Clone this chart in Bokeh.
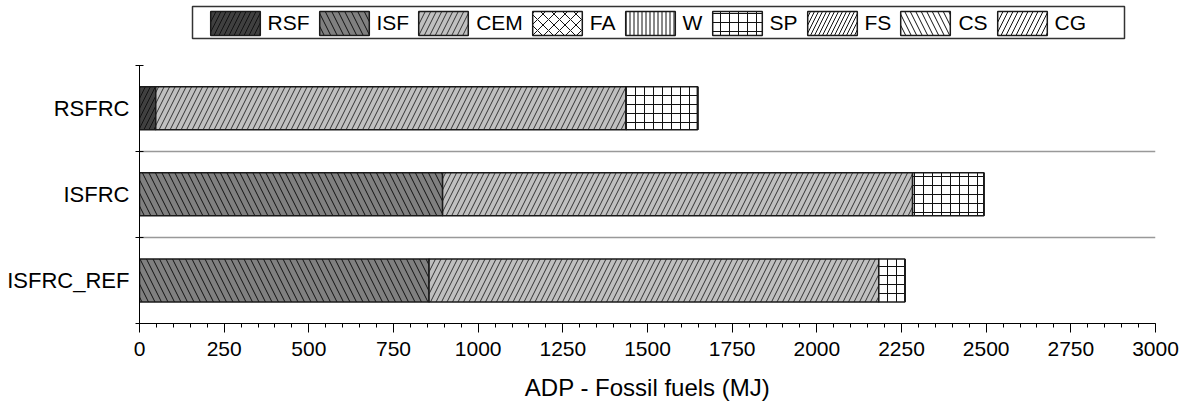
from bokeh.plotting import figure
from bokeh.models import (Range1d, FixedTicker, SingleIntervalTicker, Legend,
                          LegendItem, ColumnDataSource, BoxAnnotation)
from bokeh.embed import file_html
from bokeh.resources import INLINE

# ---- data ----
categories = ["RSFRC", "ISFRC", "ISFRC_REF"]
components = ["RSF", "ISF", "CEM", "FA", "W", "SP", "FS", "CS", "CG"]
RSF = [48, 0, 0]
ISF = [0, 895, 855]
CEM = [1389, 1388, 1328]
FA = [0, 0, 0]
W = [0, 0, 0]
SP = [211, 210, 77]
FS = [0, 0, 0]
CS = [0, 0, 0]
CG = [0, 0, 0]
x_tick_interval = 250
x_max = 3000
x_label = "ADP - Fossil fuels (MJ)"

# ---- styles ----
fills = ["#404040", "#808080", "#c0c0c0", "white", "white", "white", "white", "white", "white"]
hatches = ["/", "\\", "/", "x", "|", "+", "/", "\\", "/"]
hatch_scales = [10, 13, 11, 11, 4, 9, 8, 11, 10]
hatch_colors = ["#111111", "#111111", "#333333", "#111111", "#111111", "#111111", "#111111", "#111111", "#111111"]
FONT = "Liberation Sans"
LEGEND_ROOM = 0.75   # extra room above the bars (in category units) that holds the legend

n = len(categories)
ypos = [n - i - 0.5 for i in range(n)]

data = {"y": ypos}
series = [RSF, ISF, CEM, FA, W, SP, FS, CS, CG]
for name, vals in zip(components, series):
    data[name] = vals
source = ColumnDataSource(data)

p = figure(width=1193, height=403,
           x_range=Range1d(0, x_max), y_range=Range1d(0, n + LEGEND_ROOM),
           output_backend="svg", toolbar_location=None,
           min_border_left=139, min_border_right=38,
           min_border_top=0, min_border_bottom=78)
p.outline_line_color = None
p.background_fill_color = "white"
p.border_fill_color = "white"

renderers = p.hbar_stack(components, y="y", height=0.5, source=source,
                         fill_color=fills, line_color="#1a1a1a", line_width=1.5,
                         hatch_pattern=hatches, hatch_scale=hatch_scales,
                         hatch_color=hatch_colors, hatch_weight=1)

# x axis
xa = p.xaxis[0]
xa.ticker = SingleIntervalTicker(interval=x_tick_interval, num_minor_ticks=5)
xa.major_tick_out = 9
xa.major_tick_in = 0
xa.minor_tick_out = 4
xa.minor_tick_in = 0
xa.axis_line_color = "black"
xa.major_tick_line_color = "black"
xa.minor_tick_line_color = "black"
xa.major_label_text_font = FONT
xa.major_label_text_font_size = "21px"
xa.major_label_text_color = "black"
xa.major_label_standoff = 9
xa.axis_label = x_label
xa.axis_label_text_font = FONT
xa.axis_label_text_font_size = "24px"
xa.axis_label_text_font_style = "normal"
xa.axis_label_text_color = "black"
xa.axis_label_standoff = 15

# y axis
ya = p.yaxis[0]
ya.bounds = (0, n)
ya.ticker = FixedTicker(ticks=ypos, minor_ticks=list(range(n + 1)))
ya.major_label_overrides = {y: c for y, c in zip(ypos, categories)}
ya.major_tick_line_color = None
ya.major_tick_out = 0
ya.major_tick_in = 0
ya.minor_tick_out = 4
ya.minor_tick_in = 4
ya.minor_tick_line_color = "black"
ya.axis_line_color = "black"
ya.major_label_text_font = FONT
ya.major_label_text_font_size = "22px"
ya.major_label_text_color = "black"
ya.major_label_standoff = 6

# grid
p.xgrid.grid_line_color = None
p.ygrid.ticker = FixedTicker(ticks=list(range(1, n)))
p.ygrid.grid_line_color = "#999999"
p.ygrid.grid_line_width = 1.5

# legend frame (screen units relative to the plot frame, y upwards)
p.add_layout(BoxAnnotation(left=53, right=985, bottom=285, top=317,
                           left_units="screen", right_units="screen",
                           bottom_units="screen", top_units="screen",
                           fill_color="white", fill_alpha=1,
                           line_color="#333333", line_width=1.5, line_alpha=1))

legend = Legend(items=[LegendItem(label=c, renderers=[r]) for c, r in zip(components, renderers)],
                orientation="horizontal", location=(64.5, 285),
                glyph_width=62, glyph_height=30, label_standoff=2, spacing=3,
                padding=1, margin=0,
                label_text_font=FONT, label_text_font_size="21px",
                label_text_color="black", label_height=24,
                border_line_color=None, background_fill_alpha=0)
p.add_layout(legend, "center")

open("out.html", "w").write(file_html(p, INLINE))
